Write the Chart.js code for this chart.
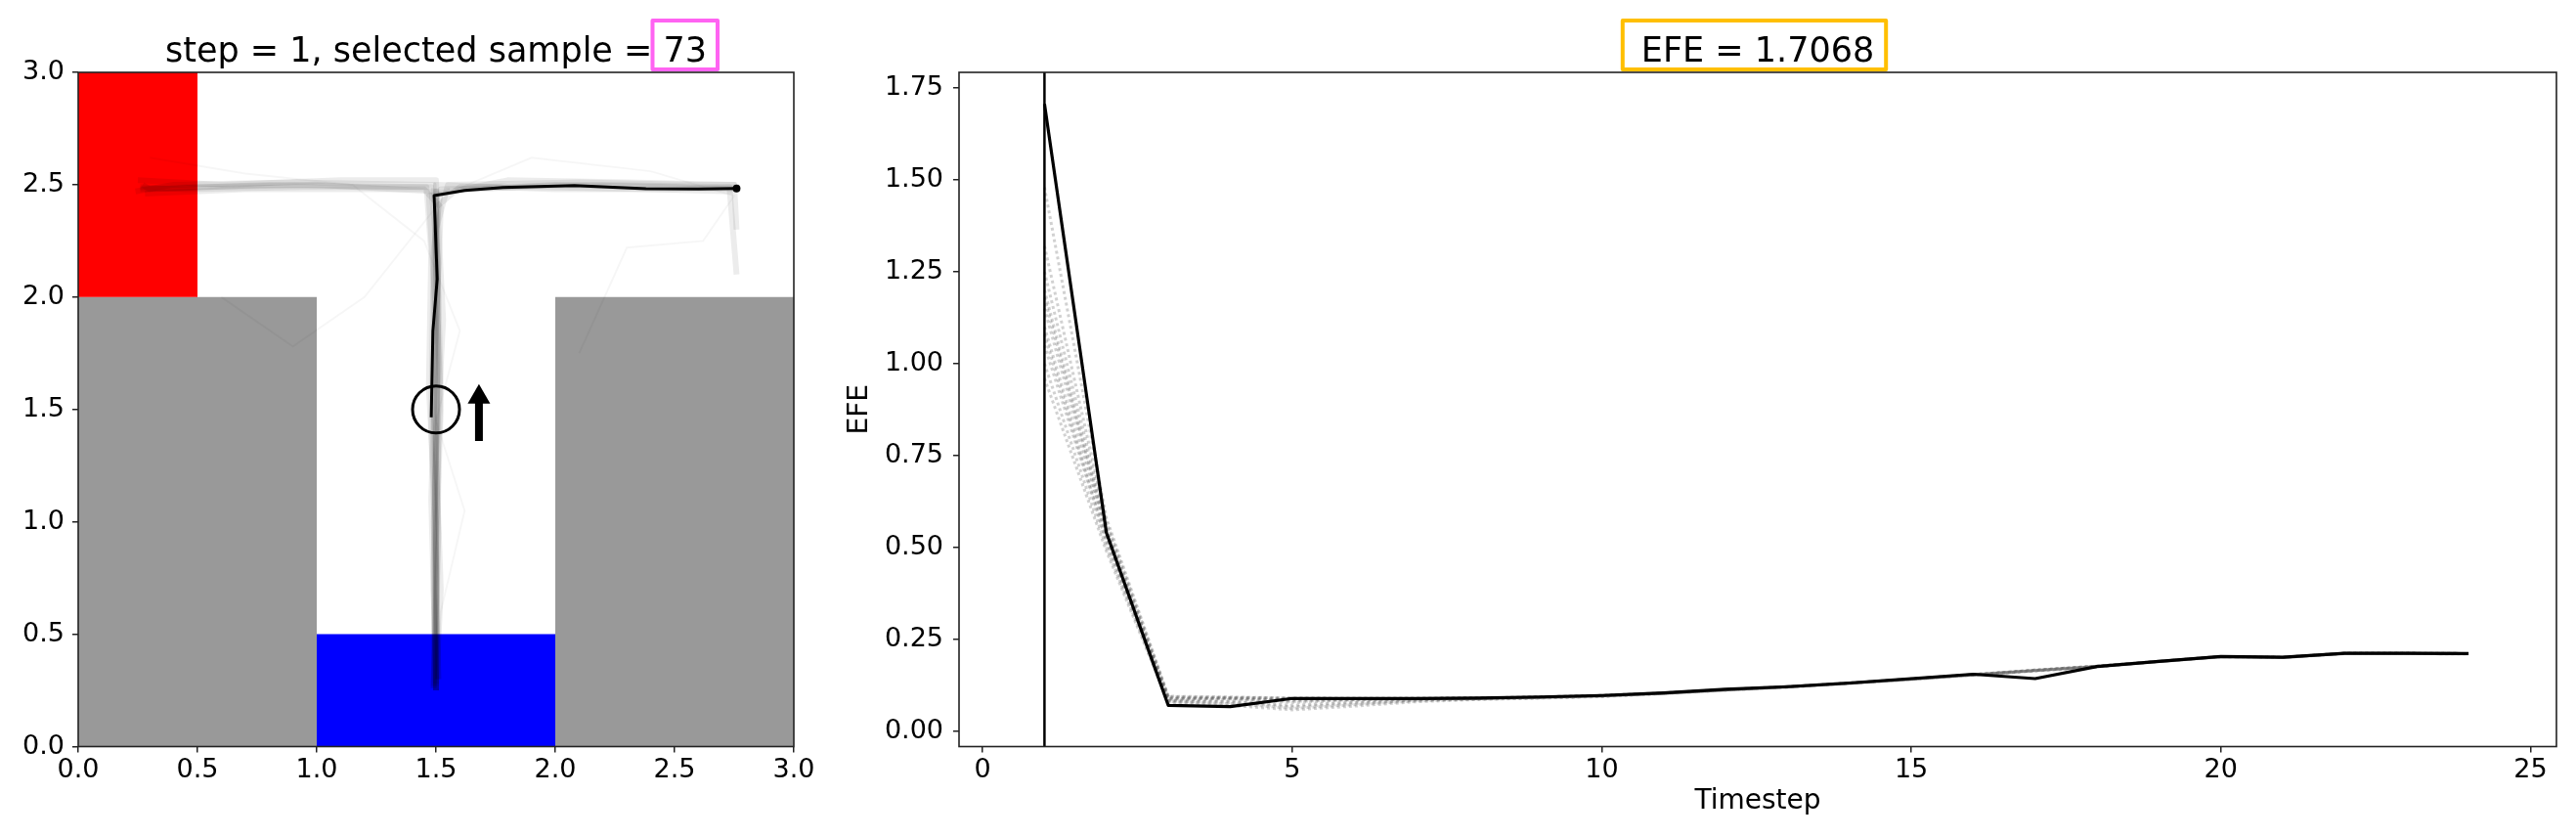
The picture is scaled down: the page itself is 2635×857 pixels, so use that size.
<!DOCTYPE html>
<html>
<head>
<meta charset="utf-8">
<script src="https://cdn.jsdelivr.net/npm/chart.js@4.4.1/dist/chart.umd.min.js"></script>
<style>
  html, body { margin: 0; padding: 0; background: #fff; }
  #wrap { position: relative; width: 2635px; height: 857px; }
  .panel { position: absolute; top: 0; height: 857px; }
  #left { left: 0; width: 850px; }
  #right { left: 850px; width: 1785px; }
</style>
</head>
<body>
<div id="wrap">
  <div class="panel" id="left"><canvas id="mazeChart" width="850" height="857"></canvas></div>
  <div class="panel" id="right"><canvas id="efeChart" width="1785" height="857"></canvas></div>
</div>
<script>
// ---- values ----
const step = 1;
const selectedSample = 73;
const efeValue = 1.7068;

// maze panel
const mazeTicks = [0, 0.5, 1, 1.5, 2, 2.5, 3];
const redZoneX = [0, 0.5];
const redZoneY = [2, 3];
const wallsX = [[0, 1], [2, 3]];
const wallTop = 2;
const blueZoneX = [1, 2];
const blueZoneTop = 0.5;

const agentPos = [1.5, 1.5];
const arrowX = 1.68;
const arrowTail = 1.36;
const arrowTip = 1.555;

const selectedPathX = [1.480, 1.487, 1.505, 1.492, 1.62, 1.78, 2.08, 2.38, 2.60, 2.76];
const selectedPathY = [1.465, 1.85, 2.08, 2.452, 2.475, 2.488, 2.496, 2.482, 2.481, 2.483];

const samplePaths = [
  [[1.50,0.25],[1.49,0.80],[1.50,1.40],[1.49,2.00],[1.50,2.47],[1.00,2.50],[0.50,2.49],[0.26,2.48]],
  [[1.51,0.30],[1.50,0.90],[1.52,1.50],[1.50,2.10],[1.49,2.50],[0.90,2.51],[0.40,2.50],[0.24,2.47]],
  [[1.49,0.27],[1.50,1.00],[1.47,1.60],[1.48,2.20],[1.46,2.49],[0.80,2.50],[0.30,2.48],[0.27,2.50]],
  [[1.50,0.25],[1.52,0.70],[1.50,1.30],[1.53,1.90],[1.50,2.52],[1.10,2.52],[0.60,2.50],[0.25,2.52]],
  [[1.50,0.28],[1.48,1.10],[1.50,1.80],[1.52,2.40],[1.45,2.48],[0.70,2.48],[0.28,2.46]],
  [[1.49,0.26],[1.51,0.95],[1.49,1.55],[1.51,2.15],[1.48,2.49],[0.95,2.49],[0.45,2.48],[0.26,2.49]],
  [[1.50,0.25],[1.50,0.90],[1.49,1.50],[1.50,2.10],[1.50,2.47],[2.00,2.50],[2.50,2.49],[2.75,2.48]],
  [[1.51,0.30],[1.49,1.00],[1.51,1.70],[1.50,2.30],[1.55,2.50],[2.10,2.51],[2.60,2.50],[2.76,2.50]],
  [[1.49,0.26],[1.50,0.80],[1.48,1.40],[1.49,2.20],[1.52,2.48],[1.90,2.49],[2.40,2.48],[2.74,2.47]],
  [[1.50,0.25],[1.51,1.20],[1.50,1.90],[1.47,2.45],[1.80,2.52],[2.30,2.51],[2.75,2.50],[2.76,2.30]],
  [[1.50,0.27],[1.50,1.00],[1.52,1.60],[1.50,2.40],[1.60,2.49],[2.20,2.50],[2.73,2.49],[2.76,2.10]],
  [[1.50,0.25],[1.49,0.70],[1.50,1.30],[1.51,2.00],[1.50,2.50],[2.00,2.48],[2.50,2.48],[2.77,2.49]]
];
const strayPaths = [
  [[1.50,1.45],[1.60,1.85],[1.45,2.25],[1.15,2.50],[0.70,2.55],[0.30,2.62]],
  [[1.50,1.45],[1.62,1.05],[1.52,0.60],[1.50,0.30]],
  [[1.52,2.45],[1.90,2.62],[2.40,2.56],[2.75,2.45],[2.62,2.25],[2.30,2.22],[2.10,1.75]],
  [[1.50,2.40],[1.20,2.00],[0.90,1.78],[0.60,2.00]]
];

// EFE panel
const efeXTicks = [0, 5, 10, 15, 20, 25];
const efeYTicks = [0, 0.25, 0.5, 0.75, 1, 1.25, 1.5, 1.75];
const efeXRange = [-0.38, 25.42];
const efeYRange = [-0.042, 1.793];
const timesteps = [1, 2, 3, 4, 5, 6, 7, 8, 9, 10, 11, 12, 13, 14, 15, 16, 17, 18, 19, 20, 21, 22, 23, 24];
const efeSelected = [1.707, 0.54, 0.070, 0.067, 0.089, 0.089, 0.089, 0.090, 0.093, 0.097, 0.104, 0.114,
                     0.121, 0.131, 0.143, 0.155, 0.143, 0.176, 0.190, 0.203, 0.201, 0.212, 0.212, 0.211];
const efeSamples = [
  [1.25, 0.56, 0.092, 0.090, 0.089, 0.089, 0.089, 0.090, 0.093, 0.097, 0.104, 0.113, 0.121, 0.131, 0.142, 0.154, 0.166, 0.177, 0.190, 0.203, 0.201, 0.212, 0.212, 0.211],
  [1.20, 0.55, 0.090, 0.091, 0.088, 0.088, 0.089, 0.090, 0.092, 0.096, 0.103, 0.112, 0.120, 0.130, 0.141, 0.153, 0.165, 0.176, 0.189, 0.202, 0.200, 0.211, 0.211, 0.210],
  [1.15, 0.54, 0.088, 0.089, 0.084, 0.086, 0.088, 0.089, 0.092, 0.096, 0.103, 0.112, 0.120, 0.130, 0.142, 0.154, 0.165, 0.176, 0.190, 0.203, 0.201, 0.212, 0.212, 0.211],
  [1.10, 0.53, 0.085, 0.085, 0.078, 0.083, 0.087, 0.089, 0.092, 0.096, 0.104, 0.113, 0.121, 0.131, 0.142, 0.153, 0.164, 0.175, 0.190, 0.202, 0.200, 0.211, 0.211, 0.210],
  [1.05, 0.52, 0.083, 0.080, 0.070, 0.078, 0.085, 0.088, 0.091, 0.095, 0.103, 0.112, 0.120, 0.130, 0.141, 0.153, 0.165, 0.176, 0.190, 0.203, 0.201, 0.212, 0.212, 0.211],
  [1.00, 0.50, 0.080, 0.075, 0.062, 0.072, 0.082, 0.087, 0.090, 0.095, 0.102, 0.112, 0.121, 0.131, 0.142, 0.154, 0.166, 0.177, 0.190, 0.203, 0.201, 0.212, 0.212, 0.211],
  [0.96, 0.49, 0.078, 0.070, 0.058, 0.068, 0.080, 0.086, 0.090, 0.094, 0.102, 0.111, 0.120, 0.130, 0.141, 0.153, 0.164, 0.175, 0.189, 0.202, 0.200, 0.211, 0.211, 0.210],
  [1.32, 0.57, 0.094, 0.092, 0.090, 0.089, 0.089, 0.090, 0.093, 0.097, 0.104, 0.113, 0.121, 0.131, 0.142, 0.154, 0.166, 0.177, 0.190, 0.203, 0.201, 0.212, 0.212, 0.211],
  [1.48, 0.58, 0.095, 0.093, 0.090, 0.089, 0.089, 0.090, 0.093, 0.097, 0.104, 0.113, 0.121, 0.131, 0.142, 0.154, 0.166, 0.177, 0.190, 0.203, 0.201, 0.212, 0.212, 0.211],
  [1.18, 0.545, 0.087, 0.088, 0.081, 0.085, 0.088, 0.089, 0.092, 0.096, 0.103, 0.112, 0.120, 0.130, 0.141, 0.153, 0.165, 0.176, 0.190, 0.203, 0.201, 0.212, 0.212, 0.211],
  [1.08, 0.515, 0.082, 0.078, 0.066, 0.075, 0.084, 0.088, 0.091, 0.095, 0.103, 0.112, 0.120, 0.130, 0.141, 0.153, 0.165, 0.176, 0.190, 0.203, 0.201, 0.212, 0.212, 0.211]
];

// ---- shared look ----
Chart.defaults.font.family = "'DejaVu Sans'";
Chart.defaults.color = '#000';
const tickFont = {family: 'DejaVu Sans', size: 27};

const framePlugin = {
  id: 'frame',
  afterDatasetsDraw(chart) {
    const {ctx, chartArea: a} = chart;
    ctx.save();
    ctx.strokeStyle = '#222';
    ctx.lineWidth = 1.6;
    ctx.strokeRect(a.left, a.top, a.right - a.left, a.bottom - a.top);
    ctx.restore();
  }
};

function boxedTitle(prefix, boxed, color, padLeft, padRight) {
  return {
    id: 'boxedTitle',
    afterDraw(chart) {
      const {ctx, chartArea: a} = chart;
      ctx.save();
      ctx.font = '35px "DejaVu Sans"';
      ctx.textBaseline = 'alphabetic';
      ctx.fillStyle = '#000';
      const full = prefix + boxed;
      const w = ctx.measureText(full).width;
      const x0 = (a.left + a.right) / 2 - w / 2;
      const base = a.top - 11;
      ctx.fillText(full, x0, base);
      const bx = x0 + ctx.measureText(prefix).width;
      const bw = ctx.measureText(boxed).width;
      ctx.strokeStyle = color;
      ctx.lineWidth = 4;
      ctx.lineJoin = 'round';
      ctx.strokeRect(bx - padLeft, base - 42, bw + padLeft + padRight, 50);
      ctx.restore();
    }
  };
}

function axis(min, max, tickValues, fmt, fit, extra) {
  return Object.assign({
    type: 'linear',
    min: min,
    max: max,
    afterBuildTicks: s => { s.ticks = tickValues.map(v => ({value: v})); },
    afterFit: fit,
    border: {display: false},
    grid: {display: true, drawOnChartArea: false, drawTicks: true, tickLength: 6, color: '#222', lineWidth: 1.5},
    ticks: {font: tickFont, color: '#000', autoSkip: false, maxRotation: 0, padding: 2, callback: fmt}
  }, extra || {});
}

const pts = path => path.map(p => ({x: p[0], y: p[1]}));

// ---- maze panel ----
const mazeDatasets = [
  {data: [{x: agentPos[0], y: agentPos[1]}], showLine: false, pointRadius: 24, pointBorderWidth: 3,
   pointBackgroundColor: 'rgba(0,0,0,0)', pointBorderColor: '#000'},
  {data: [{x: arrowX, y: arrowTip}], showLine: false, pointStyle: 'triangle', pointRadius: 13.3,
   pointBorderWidth: 0, pointBackgroundColor: '#000', pointBorderColor: '#000'},
  {data: [{x: arrowX, y: arrowTail}, {x: arrowX, y: arrowTip}], borderColor: '#000', borderWidth: 8,
   borderCapStyle: 'butt', pointRadius: 0},
  {data: [{x: selectedPathX[selectedPathX.length - 1], y: selectedPathY[selectedPathY.length - 1]}],
   showLine: false, pointRadius: 4, pointBackgroundColor: '#000', pointBorderWidth: 0},
  {data: selectedPathX.map((x, i) => ({x: x, y: selectedPathY[i]})), borderColor: '#000', borderWidth: 3,
   pointRadius: 0, borderJoinStyle: 'round'}
];
samplePaths.forEach(p => mazeDatasets.push({data: pts(p), borderColor: 'rgba(0,0,0,0.075)', borderWidth: 6,
  pointRadius: 0, borderJoinStyle: 'round'}));
strayPaths.forEach(p => mazeDatasets.push({data: pts(p), borderColor: 'rgba(0,0,0,0.035)', borderWidth: 2,
  pointRadius: 0}));
// coloured regions (fills under short level lines)
mazeDatasets.push({data: [{x: redZoneX[0], y: redZoneY[1]}, {x: redZoneX[1], y: redZoneY[1]}],
  fill: {value: redZoneY[0]}, backgroundColor: '#ff0000', borderColor: 'rgba(0,0,0,0)', pointRadius: 0});
wallsX.forEach(w => mazeDatasets.push({data: [{x: w[0], y: wallTop}, {x: w[1], y: wallTop}],
  fill: 'start', backgroundColor: '#999999', borderColor: 'rgba(0,0,0,0)', pointRadius: 0}));
mazeDatasets.push({data: [{x: blueZoneX[0], y: blueZoneTop}, {x: blueZoneX[1], y: blueZoneTop}],
  fill: 'start', backgroundColor: '#0000ff', borderColor: 'rgba(0,0,0,0)', pointRadius: 0});

new Chart(document.getElementById('mazeChart'), {
  type: 'line',
  data: {datasets: mazeDatasets},
  options: {
    responsive: false,
    animation: false,
    devicePixelRatio: 1,
    layout: {padding: {left: 0, top: 74, right: 38, bottom: 0}},
    plugins: {legend: {display: false}, tooltip: {enabled: false}},
    scales: {
      x: axis(0, 3, mazeTicks, v => v.toFixed(1), s => { s.height = 93.5; }),
      y: axis(0, 3, mazeTicks, v => v.toFixed(1), s => { s.width = 80; }, {ticks: {font: tickFont, color: '#000', autoSkip: false, padding: 8, callback: v => v.toFixed(1)}})
    }
  },
  plugins: [framePlugin, boxedTitle('step = ' + step + ', selected sample = ', String(selectedSample), '#ff63f2', 11, 11)]
});

// ---- EFE panel ----
const efeDatasets = [
  {data: timesteps.map((t, i) => ({x: t, y: efeSelected[i]})), borderColor: '#000', borderWidth: 3.2,
   pointRadius: 0, borderJoinStyle: 'round'},
  {data: [{x: step, y: efeYRange[0]}, {x: step, y: efeYRange[1]}], borderColor: '#000', borderWidth: 2.5,
   pointRadius: 0}
];
efeSamples.forEach(s => efeDatasets.push({data: timesteps.map((t, i) => ({x: t, y: s[i]})),
  borderColor: 'rgba(90,90,90,0.28)', borderWidth: 3, borderDash: [3, 3], pointRadius: 0}));

new Chart(document.getElementById('efeChart'), {
  type: 'line',
  data: {datasets: efeDatasets},
  options: {
    responsive: false,
    animation: false,
    devicePixelRatio: 1,
    layout: {padding: {left: 0, top: 74, right: 20, bottom: 0}},
    plugins: {legend: {display: false}, tooltip: {enabled: false}},
    scales: {
      x: axis(efeXRange[0], efeXRange[1], efeXTicks, v => String(v), s => { s.height = 93.5; },
        {title: {display: true, text: 'Timestep', font: {family: 'DejaVu Sans', size: 28}, color: '#000', padding: {top: 0, bottom: 20}}}),
      y: axis(efeYRange[0], efeYRange[1], efeYTicks, v => v.toFixed(2), s => { s.width = 131; },
        {title: {display: true, text: 'EFE', font: {family: 'DejaVu Sans', size: 28}, color: '#000', padding: {top: 13, bottom: 0}},
         ticks: {font: tickFont, color: '#000', autoSkip: false, padding: 10, callback: v => v.toFixed(2)}})
    }
  },
  plugins: [framePlugin, boxedTitle('', 'EFE = ' + efeValue.toFixed(4), '#ffbf00', 19, 12)]
});
</script>
</body>
</html>
